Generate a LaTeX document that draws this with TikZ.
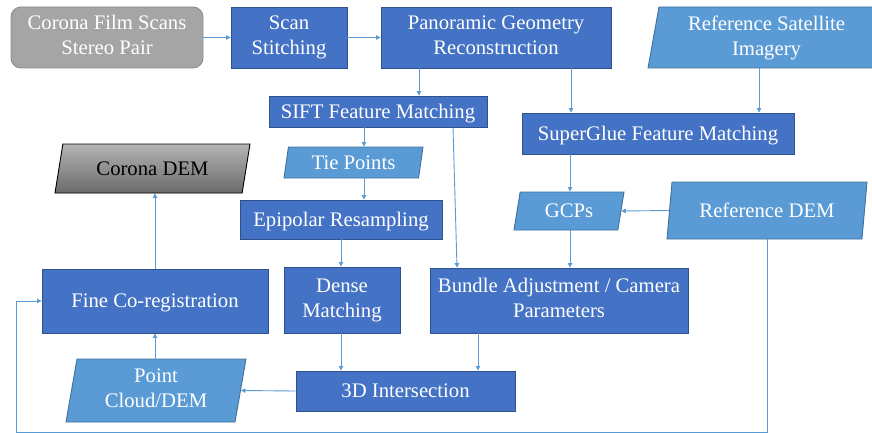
\documentclass[tikz,border=0pt]{standalone}
\usepackage{fontspec}
\setmainfont{Liberation Serif}
\usetikzlibrary{shapes.geometric,arrows.meta}
\definecolor{dblue}{HTML}{4472C4}
\definecolor{dborder}{HTML}{2F528F}
\definecolor{lblue}{HTML}{5B9BD5}
\definecolor{lborder}{HTML}{41719C}
\definecolor{lineblue}{HTML}{5B9BD5}
\definecolor{gfill}{HTML}{A5A5A5}
\definecolor{gborder}{HTML}{8C8C8C}
\definecolor{demtop}{HTML}{B4B4B4}
\definecolor{dembot}{HTML}{6A6A6A}
\newcommand{\linestrut}{\rule[-4.5pt]{0pt}{22.9pt}}
\begin{document}
\begin{tikzpicture}[x=1pt,y=-1pt,
  every node/.style={font=\fontsize{20.7}{25}\selectfont, align=center, inner sep=0pt, text=white,
    execute at begin node=\linestrut, execute at end node=\linestrut},
  darkbox/.style={rectangle, draw=dborder, fill=dblue, line width=0.9pt},
  graybox/.style={rectangle, rounded corners=10pt, draw=gborder, fill=gfill, line width=0.9pt},
  parabox/.style={trapezium, trapezium stretches body, trapezium left angle=76, trapezium right angle=104, draw=lborder, fill=lblue, line width=0.9pt},
  conn/.style={draw=lineblue, line width=0.9pt, -{Triangle[length=4.5pt,width=4.5pt]}}]
\useasboundingbox (0,0) rectangle (872,433);

% nodes
\node[graybox, minimum width=192pt, minimum height=61pt] (film) at (107,37.5) {Corona Film Scans\\Stereo Pair};
\node[darkbox, minimum width=116pt, minimum height=61pt] (scan) at (289,37.5) {Scan\\Stitching};
\node[darkbox, minimum width=230pt, minimum height=61pt] (pano) at (496,37.5) {Panoramic Geometry\\Reconstruction};
\node[parabox, minimum width=237pt, minimum height=61pt] (refsat) at (766.5,37.5) {Reference Satellite\\Imagery};
\node[darkbox, minimum width=218pt, minimum height=31pt] (sift) at (378,111.5) {SIFT Feature Matching};
\node[darkbox, minimum width=272pt, minimum height=41pt] (sglue) at (658,133.5) {SuperGlue Feature Matching};
\node[parabox, trapezium left angle=79, trapezium right angle=101, minimum width=139pt, minimum height=31pt] (tie) at (353.5,162.5) {Tie Points};
\node[parabox, trapezium left angle=71, trapezium right angle=109, draw=black, shading=axis, top color=demtop, bottom color=dembot, text=black, minimum width=195pt, minimum height=49pt] (cdem) at (152.5,168.5) {Corona DEM};
\node[darkbox, minimum width=202pt, minimum height=39pt] (epi) at (341,219.5) {Epipolar Resampling};
\node[parabox, trapezium left angle=75, trapezium right angle=105, minimum width=110pt, minimum height=38pt] (gcps) at (569,211) {GCPs};
\node[parabox, trapezium left angle=77.6, trapezium right angle=102.4, minimum width=200pt, minimum height=57pt] (refdem) at (767,210.5) {Reference DEM};
\node[darkbox, minimum width=226pt, minimum height=64pt] (fine) at (155,301) {Fine Co-registration};
\node[darkbox, minimum width=116pt, minimum height=66pt] (dense) at (342,300) {Dense\\Matching};
\node[darkbox, minimum width=258pt, minimum height=65pt] (bundle) at (559,300.5) {Bundle Adjustment / Camera\\Parameters};
\node[parabox, trapezium left angle=75.7, trapezium right angle=104.3, minimum width=180pt, minimum height=63pt] (pc) at (156,390.5) {Point\\Cloud/DEM};
\node[darkbox, minimum width=219pt, minimum height=40pt] (inter) at (405.5,391) {3D Intersection};

% helper x positions
\coordinate (xA) at (419,0);
\coordinate (xB) at (571,0);
\coordinate (xC) at (759,0);
\coordinate (xD) at (364,0);
\coordinate (xE) at (570,0);
\coordinate (xF1) at (453,0);
\coordinate (xF2) at (457,0);
\coordinate (xG) at (341,0);
\coordinate (xH) at (478,0);
\coordinate (xI) at (155,0);
\coordinate (xJ) at (767,0);
\coordinate (fbl) at (16,432);

% connectors
\draw[conn] (film.east) -- (scan.west);
\draw[conn] (scan.east) -- (pano.west);
\draw[conn] (pano.south -| xA) -- (sift.north -| xA);
\draw[conn] (pano.south -| xB) -- (sglue.north -| xB);
\draw[conn] (refsat.south -| xC) -- (sglue.north -| xC);
\draw[conn] (sift.south -| xD) -- (tie.north -| xD);
\draw[conn] (tie.south -| xD) -- (epi.north -| xD);
\draw[conn] (sglue.south -| xE) -- (gcps.north -| xE);
\draw[conn] (refdem.west) -- (gcps.east);
\draw[conn] (sift.south -| xF1) -- (bundle.north -| xF2);
\draw[conn] (gcps.south -| xE) -- (bundle.north -| xE);
\draw[conn] (epi.south -| xG) -- (dense.north -| xG);
\draw[conn] (dense.south -| xG) -- (inter.north -| xG);
\draw[conn] (bundle.south -| xH) -- (inter.north -| xH);
\draw[conn] (inter.west) -- (pc.east);
\draw[conn] (pc.north -| xI) -- (fine.south -| xI);
\draw[conn] (fine.north -| xI) -- (cdem.south -| xI);
\draw[conn] (refdem.south -| xJ) |- (fbl) |- (fine.west);
\end{tikzpicture}
\end{document}
